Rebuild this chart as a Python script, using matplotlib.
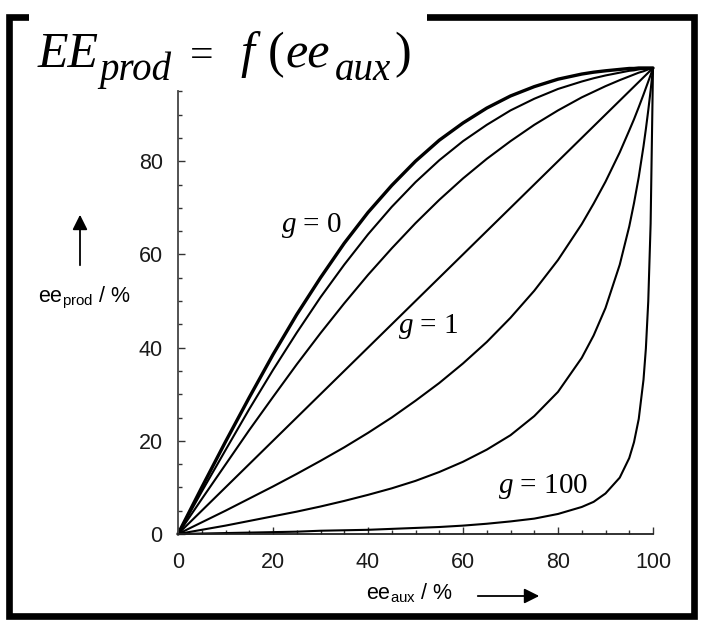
import numpy as np
import matplotlib.pyplot as plt
from matplotlib.patches import Rectangle, FancyArrowPatch

# ==============================
# Data
# ==============================
ee_aux = [0, 5, 10, 15, 20, 25, 30, 35, 40, 45, 50, 55, 60, 65, 70, 75, 80, 85, 87.5,
          90, 93, 95, 96, 97, 98, 98.5, 99, 99.5, 100]

ee_g0 = [0, 10.0, 19.8, 29.3, 38.5, 47.1, 55.0, 62.4, 69.0, 74.8, 80.0, 84.5, 88.2, 91.4, 94.0,
         96.0, 97.6, 98.7, 99.1, 99.4, 99.7, 99.9, 99.9, 100.0, 100.0, 100.0, 100.0, 100.0, 100]
ee_g01 = [0, 9.1, 18.0, 26.8, 35.2, 43.2, 50.8, 57.8, 64.3, 70.2, 75.5, 80.2, 84.3, 87.8, 90.9,
          93.4, 95.5, 97.1, 97.8, 98.4, 99.0, 99.4, 99.5, 99.7, 99.8, 99.8, 99.9, 100.0, 100]
ee_g03 = [0, 7.5, 14.9, 22.3, 29.4, 36.4, 43.1, 49.5, 55.6, 61.3, 66.7, 71.7, 76.3, 80.5, 84.3,
          87.8, 90.9, 93.7, 94.9, 96.1, 97.4, 98.2, 98.6, 99.0, 99.3, 99.5, 99.7, 99.8, 100]
ee_g1 = [0, 5, 10, 15, 20, 25, 30, 35, 40, 45, 50, 55, 60, 65, 70, 75, 80, 85, 87.5,
         90, 93, 95, 96, 97, 98, 98.5, 99, 99.5, 100]
ee_g3 = [0, 2.5, 5.0, 7.6, 10.2, 12.9, 15.7, 18.6, 21.7, 25.0, 28.6, 32.4, 36.6, 41.2, 46.4,
         52.2, 58.8, 66.5, 70.9, 75.6, 81.9, 86.6, 89.0, 91.6, 94.3, 95.7, 97.1, 98.5, 100]
ee_g10 = [0, 0.9, 1.8, 2.8, 3.8, 4.8, 5.9, 7.1, 8.4, 9.8, 11.4, 13.3, 15.5, 18.1, 21.2,
          25.3, 30.5, 37.8, 42.6, 48.5, 57.8, 66.0, 71.0, 76.6, 83.2, 86.9, 90.9, 95.2, 100]
ee_g100 = [0, 0.1, 0.2, 0.3, 0.4, 0.5, 0.7, 0.8, 0.9, 1.1, 1.3, 1.5, 1.8, 2.2, 2.7,
           3.3, 4.3, 5.8, 6.9, 8.7, 12.1, 16.3, 19.7, 24.7, 33.1, 39.8, 49.9, 66.6, 100]

curves = [ee_g0, ee_g01, ee_g03, ee_g1, ee_g3, ee_g10, ee_g100]
widths = [2.4, 1.5, 1.5, 1.5, 1.5, 1.5, 1.5]

x_ticks = [0, 20, 40, 60, 80, 100]
y_ticks = [0, 20, 40, 60, 80]
minor_ticks = np.arange(0, 100, 5)

g_labels = [r'$g$ = 0', r'$g$ = 1', r'$g$ = 100']
g_label_pos = [(28.2, 66.1), (52.6, 44.6), (76.8, 10.3)]

# ==============================
# Fonts
# ==============================
plt.rcParams['font.family'] = ['Liberation Sans', 'DejaVu Sans']
plt.rcParams['mathtext.fontset'] = 'custom'
plt.rcParams['mathtext.rm'] = 'Liberation Serif'
plt.rcParams['mathtext.it'] = 'Liberation Serif:italic'
plt.rcParams['mathtext.sf'] = 'Liberation Sans'

W, H = 702, 627


def px(x, y):
    # pixel position (from top-left) -> figure fraction
    return x / W, 1 - y / H


fig = plt.figure(figsize=(W / 100, H / 100), dpi=100)
ax = fig.add_axes([178 / W, (H - 534) / H, 475 / W, 466 / H])

for ys, lw in zip(curves, widths):
    ax.plot(ee_aux, ys, color='black', lw=lw, clip_on=False,
            solid_capstyle='round', solid_joinstyle='round')

ax.set_xlim(0, 100)
ax.set_ylim(0, 100)
ax.set_xticks(x_ticks)
ax.set_yticks(y_ticks)
ax.set_xticks(minor_ticks, minor=True)
ax.set_yticks(minor_ticks, minor=True)

ax.spines['top'].set_visible(False)
ax.spines['right'].set_visible(False)
ax.spines['left'].set_bounds(0, 95)
ax.spines['left'].set_color('#444444')
ax.spines['bottom'].set_color('#222222')
ax.spines['left'].set_linewidth(1.3)
ax.spines['bottom'].set_linewidth(1.3)

ax.tick_params(which='both', direction='in', color='#333333', width=1.0)
ax.tick_params(which='major', length=5)
ax.tick_params(which='minor', length=3)
ax.tick_params(axis='x', which='major', pad=13, labelsize=15.5, labelcolor='#1a1a1a')
ax.tick_params(axis='y', which='major', pad=11, labelsize=15.5, labelcolor='#1a1a1a')

for txt, (x, y) in zip(g_labels, g_label_pos):
    ax.text(x, y, txt, family='Liberation Serif', fontsize=21, ha='center', va='center')

# axis labels with arrows
fig.text(*px(38, 297), r'$\mathsf{ee}_{\mathsf{prod}}$ / %', fontsize=15.5, ha='left', va='center')
fig.text(*px(366, 592), r'$\mathsf{ee}_{\mathsf{aux}}$ / %', fontsize=15.5, ha='left', va='center')

fig.patches.append(FancyArrowPatch(
    px(80, 268), px(80, 212), transform=fig.transFigure,
    arrowstyle='-|>,head_length=9,head_width=4.5', color='black', lw=1.3))
fig.patches.append(FancyArrowPatch(
    px(475, 596), px(542, 596), transform=fig.transFigure,
    arrowstyle='-|>,head_length=9,head_width=4.5', color='black', lw=1.3))

# outer frame with white gap behind the title
fig.patches.append(Rectangle(px(9, 616), (694 - 9) / W, (616 - 17) / H,
                             transform=fig.transFigure, fill=False,
                             edgecolor='black', lw=4.8, zorder=1))
fig.patches.append(Rectangle(px(29, 30), (427 - 29) / W, 22 / H,
                             transform=fig.transFigure, facecolor='white',
                             edgecolor='none', zorder=2))

# title built from pieces so the subscripts sit low like the original
serif = 'Liberation Serif'
title_parts = [
    ('EE', 38, 67, 36, 'italic'),
    ('prod', 99, 80, 28, 'italic'),
    ('=', 190, 67, 30, 'normal'),
    ('f', 240, 67, 36, 'italic'),
    ('(', 268, 67, 36, 'normal'),
    ('ee', 285, 67, 36, 'italic'),
    ('aux', 335, 80, 28, 'italic'),
    (')', 394, 67, 36, 'normal'),
]
for s, x, y, size, style in title_parts:
    fig.text(*px(x, y), s, family=serif, style=style, fontsize=size,
             ha='left', va='baseline', zorder=3)

fig.savefig('out.png', dpi=100)
